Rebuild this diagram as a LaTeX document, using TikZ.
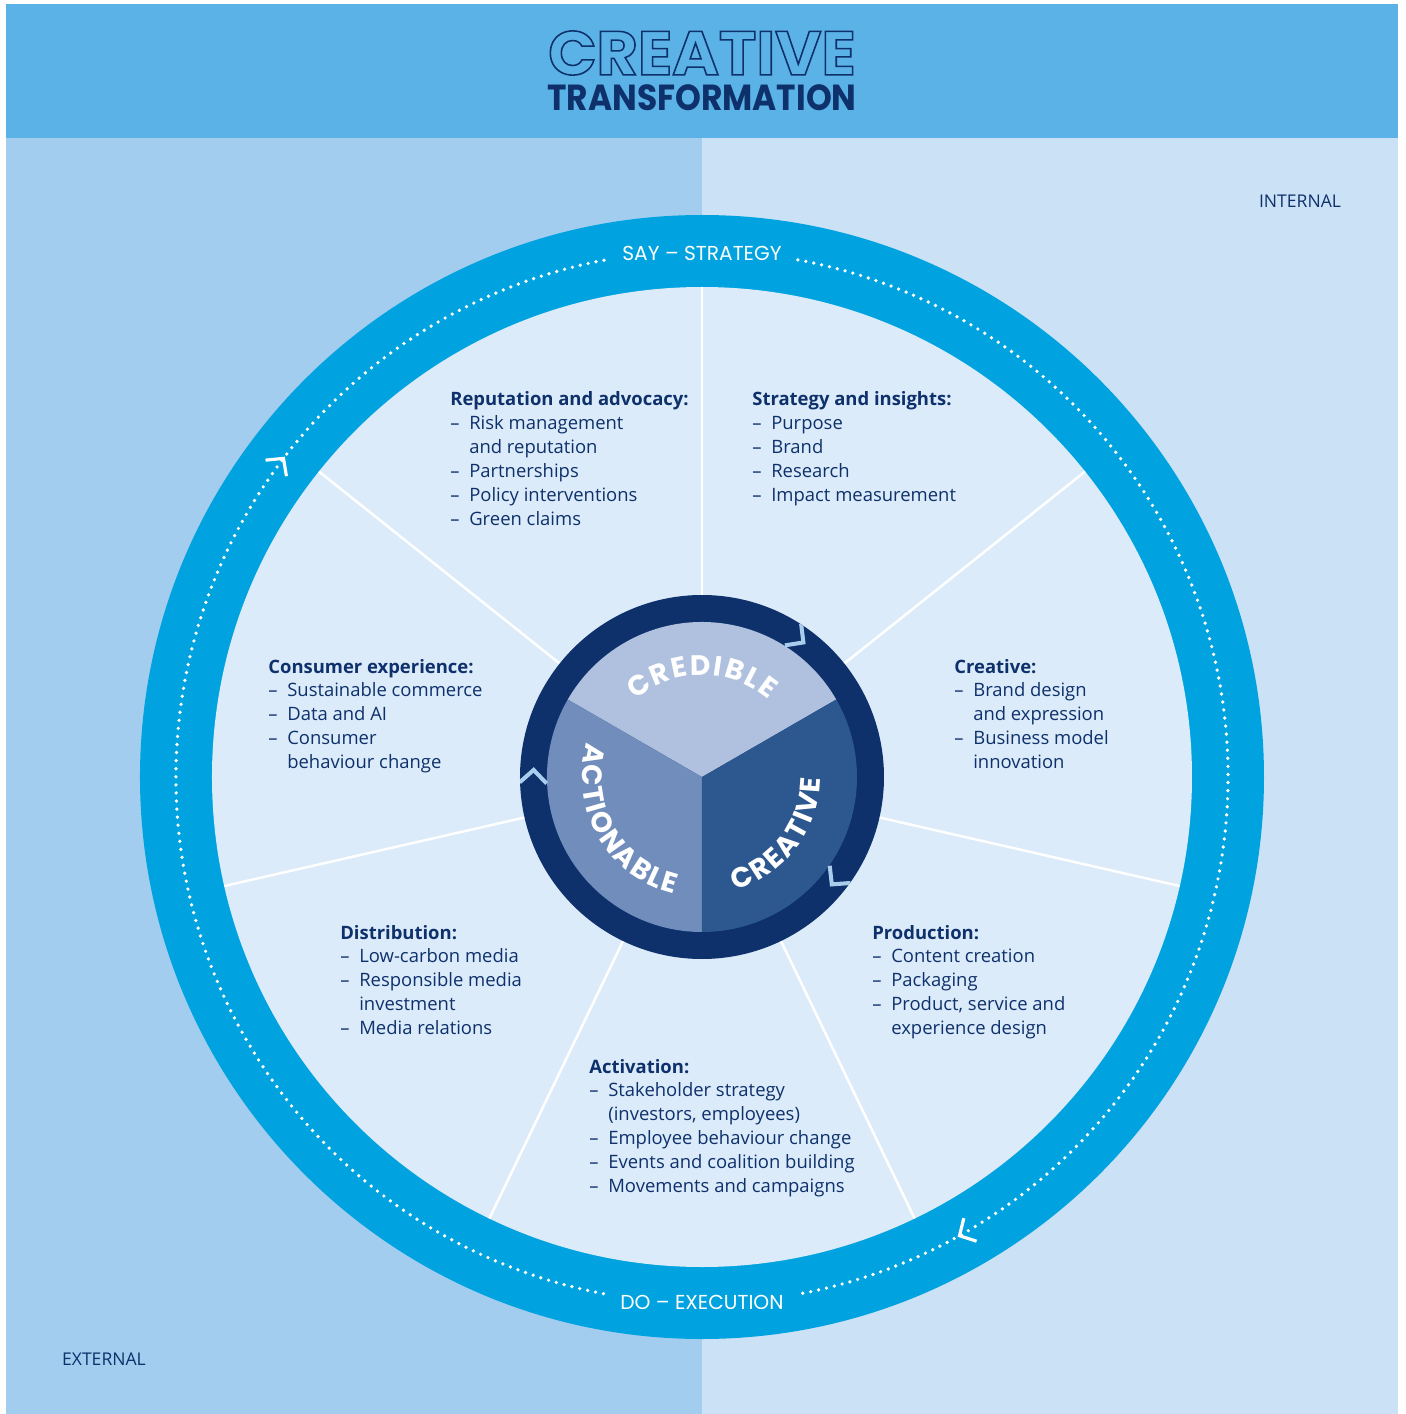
\documentclass[tikz,border=0pt]{standalone}
\usepackage{fontspec}
\setmainfont{Open Sans}
\newfontfamily\headfont{Poppins}
\usepackage{graphicx}
\usetikzlibrary{decorations.text,decorations.markings,arrows.meta}

\definecolor{headerblue}{HTML}{5BB2E6}
\definecolor{extblue}{HTML}{A2CDEE}
\definecolor{intblue}{HTML}{CBE1F6}
\definecolor{diskblue}{HTML}{DCEBFA}
\definecolor{ringblue}{HTML}{00A3DF}
\definecolor{navy}{HTML}{0E316B}
\definecolor{topsec}{HTML}{B0C1DF}
\definecolor{leftsec}{HTML}{718DBC}
\definecolor{rightsec}{HTML}{2C578F}
\definecolor{chevblue}{HTML}{A9CDEC}

\newcommand{\wordfont}{\headfont\bfseries\fontsize{16}{17}\selectfont\fontdimen2\font=1.1pt\color{white}}
\newcommand{\outlined}[1]{\special{pdf:literal direct 1 Tr 0.9 w}#1\special{pdf:literal direct 0 Tr}}
\newenvironment{itemblock}[1]{\begin{tabular}[t]{@{}p{10.8pt}@{}l@{}}\multicolumn{2}{@{}l@{}}{\bfseries #1}\\}{\end{tabular}}

\tikzstyle{divider} = [draw=white, line width=1.4pt]
\tikzstyle{block} = [anchor=base west, inner sep=0pt, text=navy, font=\fontsize{10.5}{13.6}\selectfont]
\tikzstyle{side} = [text=navy, font=\fontsize{10}{12}\selectfont]
\tikzstyle{cycleline} = [draw=white, line width=2.1pt, line cap=round, dash pattern=on 0pt off 4.6pt]
\tikzstyle{ringlabel} = [text=white, font=\headfont\fontsize{11.5}{12}\selectfont]
\tikzstyle{chevron} = [draw=chevblue, line width=2.3pt]
\tikzstyle{barb} = [decorate, decoration={markings, mark=at position #1 with {\arrow{Straight Barb[length=7pt,width=15pt,line width=1.8pt]}}}]

\begin{document}
\begin{tikzpicture}[x=0.02cm, y=0.02cm]
    \useasboundingbox (-702,-637) rectangle (704,777);
    \fill[white] (-702,-637) rectangle (704,777);

    % panels
    \fill[headerblue] (-696,639) rectangle (696,773);
    \fill[extblue] (-696,-637) rectangle (0,639);
    \fill[intblue] (0,-637) rectangle (696,639);

    \node (creative) at (0,724) {\resizebox{175pt}{25pt}{\headfont\bfseries\fontsize{36}{36}\selectfont\color{navy}\outlined{CREATIVE}}};
    \node (transf) at (0,679) {\resizebox{176pt}{14.7pt}{\headfont\bfseries\color{navy}TRANSFORMATION}};

    \node[side] (internal) at (598,576) {INTERNAL};
    \node[side] (external) at (-598,-582) {EXTERNAL};

    % outer ring and the seven fields
    \fill[ringblue] (0,0) circle (562);
    \fill[diskblue] (0,0) circle (490);
    \foreach \a in {0,...,6}
        \draw[divider] (0,0) -- ({90-\a*360/7}:490);

    \draw[cycleline, postaction={barb=0.735}] (259.2:526) arc[start angle=259.2, end angle=100.4, radius=526];
    \draw[cycleline, postaction={barb=0.886}] (79.5:526) arc[start angle=79.5, end angle=-79, radius=526];

    \node[ringlabel] (say) at (0,524) {SAY – STRATEGY};
    \node[ringlabel] (do) at (0,-525) {DO – EXECUTION};

    \node[block] (reput) at (-252,371) {\begin{itemblock}{Reputation and advocacy:}
        – & Risk management\\ & and reputation\\ – & Partnerships\\ – & Policy interventions\\ – & Green claims
    \end{itemblock}};
    \node[block] (strat) at (50,371) {\begin{itemblock}{Strategy and insights:}
        – & Purpose\\ – & Brand\\ – & Research\\ – & Impact measurement
    \end{itemblock}};
    \node[block] (creat) at (252,104) {\begin{itemblock}{Creative:}
        – & Brand design\\ & and expression\\ – & Business model\\ & innovation
    \end{itemblock}};
    \node[block] (prod) at (170,-162) {\begin{itemblock}{Production:}
        – & Content creation\\ – & Packaging\\ – & Product, service and\\ & experience design
    \end{itemblock}};
    \node[block] (activ) at (-113,-296) {\begin{itemblock}{Activation:}
        – & Stakeholder strategy\\ & (investors, employees)\\ – & Employee behaviour change\\ – & Events and coalition building\\ – & Movements and campaigns
    \end{itemblock}};
    \node[block] (distr) at (-362,-162) {\begin{itemblock}{Distribution:}
        – & Low-carbon media\\ – & Responsible media\\ & investment\\ – & Media relations
    \end{itemblock}};
    \node[block] (consum) at (-434,104) {\begin{itemblock}{Consumer experience:}
        – & Sustainable commerce\\ – & Data and AI\\ – & Consumer\\ & behaviour change
    \end{itemblock}};

    % centre
    \fill[navy] (0,0) circle (182);
    \foreach \from/\to/\col in {30/150/topsec, 150/270/leftsec, 270/390/rightsec}
        \fill[\col] (0,0) -- (\from:155) arc[start angle=\from, end angle=\to, radius=155] -- cycle;
    \begin{scope}
        \clip (0,0) circle (182);
        \foreach \a in {53,177.6,-39.6}
            \draw[chevron, rotate=\a] (155,13) -- (168.5,0) -- (182,13);
    \end{scope}

    \path[decorate, decoration={text along path, text align=center, text={|\wordfont|C R E D I B L E}}]
        (150:102) arc[start angle=150, end angle=30, radius=102];
    \path[decorate, decoration={text along path, text align=center, text={|\wordfont|A C T I O N A B L E}}]
        (150:120) arc[start angle=150, end angle=270, radius=120];
    \path[decorate, decoration={text along path, text align=center, text={|\wordfont|C R E A T I V E}}]
        (-97:118) arc[start angle=-97, end angle=23, radius=118];
\end{tikzpicture}
\end{document}
